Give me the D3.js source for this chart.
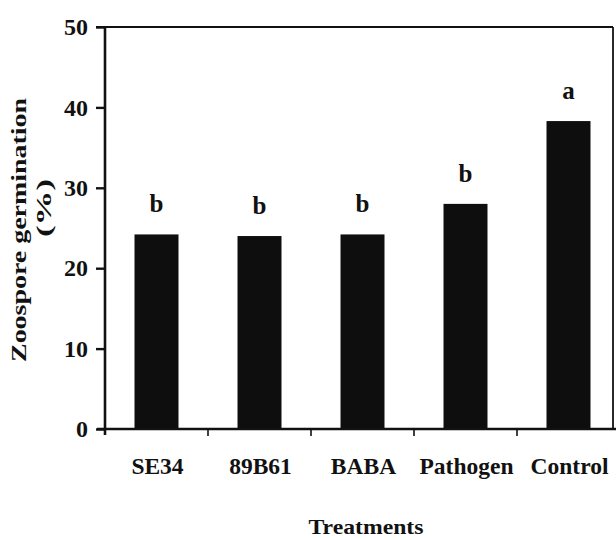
<!DOCTYPE html>
<html>
<head>
<meta charset="utf-8">
<script src="https://cdn.jsdelivr.net/npm/d3@7"></script>
<style>
  html, body { margin: 0; padding: 0; background: #fff; }
  svg { display: block; }
  text { font-family: "Liberation Serif", "Times New Roman", serif; font-weight: bold; fill: #111; }
</style>
</head>
<body>
<svg id="chart" width="616" height="540"></svg>
<script>
const categories = ["SE34", "89B61", "BABA", "Pathogen", "Control"];
const values = [24.2, 24.0, 24.2, 28.0, 38.3];
const letters = ["b", "b", "b", "b", "a"];
const yTicks = [0, 10, 20, 30, 40, 50];
const xTitle = "Treatments";
const yTitle1 = "Zoospore germination";
const yTitle2 = "(%)";

const svg = d3.select("#chart");
const plotLeft = 105, plotRight = 620, frameRight = 613, plotTop = 27, plotBottom = 429;

const x = d3.scaleBand().domain(categories).range([plotLeft, plotRight])
  .paddingInner(0.573).paddingOuter(0.2865);
const y = d3.scaleLinear().domain([0, 50]).range([plotBottom, plotTop]);

// bars
svg.selectAll("rect.bar").data(categories).enter().append("rect")
  .attr("class", "bar")
  .attr("x", d => x(d))
  .attr("width", x.bandwidth())
  .attr("y", (d, i) => y(values[i]))
  .attr("height", (d, i) => y(0) - y(values[i]))
  .attr("fill", "#0e0e0e");

// significance letters
svg.selectAll("text.sig").data(categories).enter().append("text")
  .attr("class", "sig")
  .attr("x", d => x(d) + x.bandwidth() / 2)
  .attr("y", (d, i) => y(values[i]) - 22)
  .attr("text-anchor", "middle")
  .style("font-size", "25px")
  .text((d, i) => letters[i]);

// frame: top and right
svg.append("line").attr("x1", plotLeft - 9).attr("x2", frameRight).attr("y1", y(50)).attr("y2", y(50))
  .attr("stroke", "#111").attr("stroke-width", 2.2);
svg.append("line").attr("x1", frameRight).attr("x2", frameRight).attr("y1", y(50)).attr("y2", y(0))
  .attr("stroke", "#111").attr("stroke-width", 1.8);

// y axis
const yAxis = svg.append("g").attr("transform", `translate(${plotLeft},0)`)
  .call(d3.axisLeft(y).tickValues(yTicks).tickSize(9).tickPadding(8).tickFormat(d3.format("d")));
yAxis.select(".domain").attr("stroke", "#111").attr("stroke-width", 2.6)
  .attr("d", `M0,${y(50)}V${y(0) + 6}`);
yAxis.selectAll(".tick line").attr("stroke", "#111").attr("stroke-width", 2.4);
yAxis.selectAll(".tick text").style("font-size", "24px").attr("fill", "#111");

// x axis
const step = x.step();
const gap = step * x.paddingInner() / 2;
const xAxis = svg.append("g").attr("transform", `translate(0,${plotBottom})`);
xAxis.append("line").attr("x1", plotLeft - 8).attr("x2", 616).attr("y1", 0).attr("y2", 0)
  .attr("stroke", "#111").attr("stroke-width", 2.6);
xAxis.selectAll("line.xt").data(categories.slice(1)).enter().append("line")
  .attr("class", "xt")
  .attr("x1", d => x(d) - gap).attr("x2", d => x(d) - gap)
  .attr("y1", 0).attr("y2", 7)
  .attr("stroke", "#111").attr("stroke-width", 1.6);
xAxis.selectAll("text.xl").data(categories).enter().append("text")
  .attr("class", "xl")
  .attr("x", d => x(d) + x.bandwidth() / 2 + 1)
  .attr("y", 45)
  .attr("text-anchor", "middle")
  .style("font-size", "23.5px")
  .text(d => d);

// axis titles
svg.append("text").attr("x", 366).attr("y", 534).attr("text-anchor", "middle")
  .style("font-size", "22px")
  .attr("textLength", 115).attr("lengthAdjust", "spacingAndGlyphs")
  .text(xTitle);

svg.append("text").attr("transform", "translate(26,230) rotate(-90)")
  .attr("text-anchor", "middle")
  .style("font-size", "20px")
  .attr("textLength", 264).attr("lengthAdjust", "spacingAndGlyphs")
  .text(yTitle1);
svg.append("text").attr("transform", "translate(51,208) rotate(-90)")
  .attr("text-anchor", "middle")
  .style("font-size", "20px")
  .attr("textLength", 58).attr("lengthAdjust", "spacingAndGlyphs")
  .text(yTitle2);
</script>
</body>
</html>
